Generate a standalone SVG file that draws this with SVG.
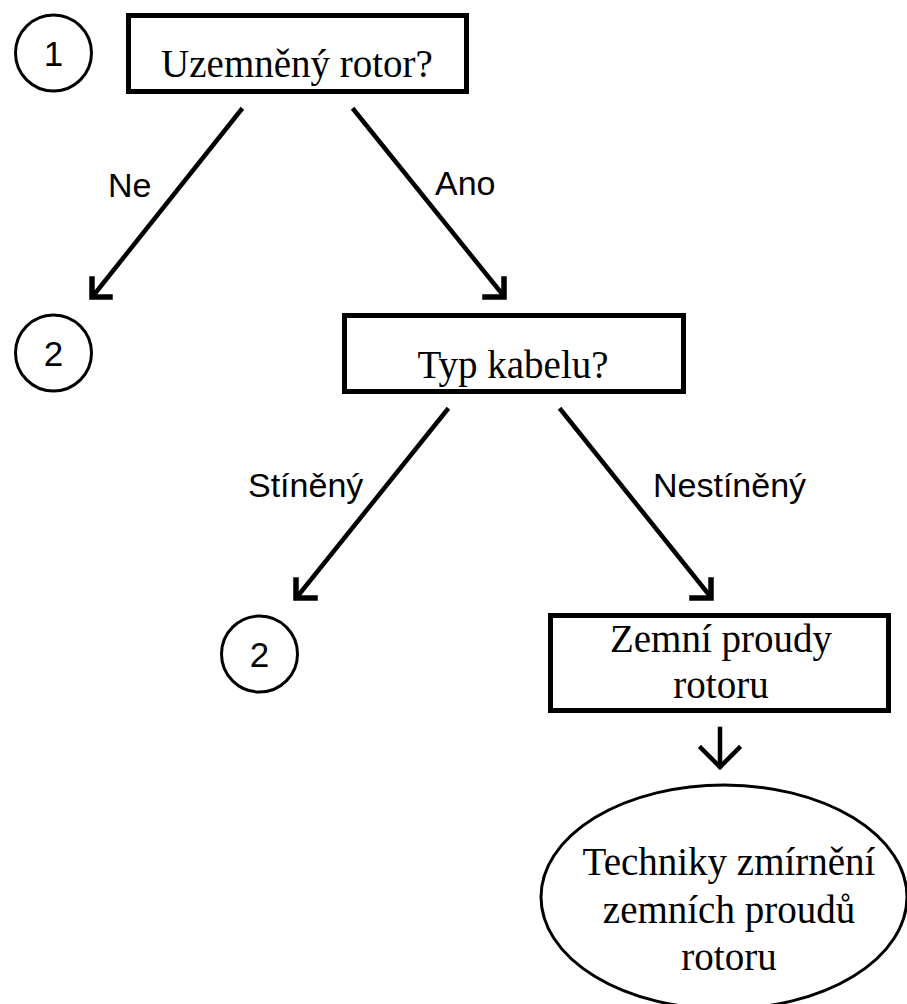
<svg xmlns="http://www.w3.org/2000/svg" width="907" height="1004" viewBox="0 0 907 1004">
<style>
.box{fill:#fff;stroke:#000;stroke-width:5}
.circ{fill:#fff;stroke:#000;stroke-width:3}
.serif{font-family:"Liberation Serif","Times New Roman",serif;font-size:39px;fill:#000;text-anchor:middle}
.sans{font-family:"Liberation Sans",Arial,sans-serif;font-size:34px;fill:#000}
.num{font-family:"Liberation Sans",Arial,sans-serif;font-size:35px;fill:#000;text-anchor:middle}
.con{fill:none;stroke:#000;stroke-width:4.5;stroke-linecap:square}
.head{fill:none;stroke:#000;stroke-width:5.5;stroke-linecap:square;stroke-linejoin:miter}
</style>
<rect width="907" height="1004" fill="#fff"/>
<g id="start-1">
<circle class="circ" cx="53.5" cy="53" r="38"/>
<text class="num" x="53.5" y="66">1</text>
</g>
<g id="q-uzemneny">
<rect class="box" x="128.5" y="15.5" width="338" height="76"/>
<text class="serif" x="297" y="77">Uzemněný rotor?</text>
</g>
<g id="goto-2a">
<circle class="circ" cx="53.5" cy="353" r="38"/>
<text class="num" x="53.5" y="366">2</text>
</g>
<g id="q-typ-kabelu">
<rect class="box" x="344.5" y="315.5" width="339" height="76"/>
<text class="serif" x="513" y="378">Typ kabelu?</text>
</g>
<g id="goto-2b">
<circle class="circ" cx="259.5" cy="654" r="38"/>
<text class="num" x="259.5" y="667">2</text>
</g>
<g id="zemni-proudy">
<rect class="box" x="550.5" y="615.5" width="338" height="95"/>
<text class="serif" x="721" y="652">Zemní proudy</text>
<text class="serif" x="721" y="698">rotoru</text>
</g>
<g id="techniky">
<ellipse class="circ" cx="724" cy="897" rx="183" ry="112"/>
<text class="serif" x="729" y="875">Techniky zmírnění</text>
<text class="serif" x="729" y="923">zemních proudů</text>
<text class="serif" x="729" y="970">rotoru</text>
</g>
<g id="connectors">
<line class="con" x1="241" y1="110" x2="93" y2="296"/>
<polyline class="head" points="92,279 92,297 110,297"/>
<text class="sans" x="108" y="197">Ne</text>
<line class="con" x1="354" y1="110" x2="503" y2="295"/>
<polyline class="head" points="504,279 504,297 485,297"/>
<text class="sans" x="435" y="195">Ano</text>
<line class="con" x1="447" y1="410" x2="297" y2="597"/>
<polyline class="head" points="296,580 296,598 315,598"/>
<text class="sans" x="248" y="497">Stíněný</text>
<line class="con" x1="561" y1="410" x2="710" y2="596"/>
<polyline class="head" points="711,580 711,598 692,598"/>
<text class="sans" x="653" y="497">Nestíněný</text>
<line class="con" x1="720" y1="729" x2="720" y2="766"/>
<polyline class="con" points="701,748 720,767 739,748"/>
</g>
</svg>
